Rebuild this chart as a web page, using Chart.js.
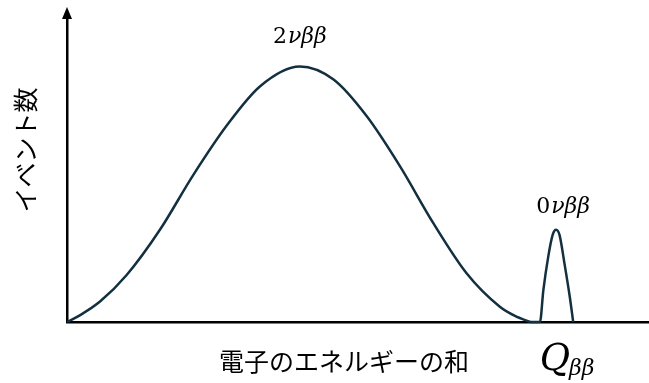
<!DOCTYPE html>
<html lang="ja">
<head>
<meta charset="utf-8">
<script src="https://cdn.jsdelivr.net/npm/chart.js@4.4.1/dist/chart.umd.min.js"></script>
<style>
  html, body { margin: 0; padding: 0; background: #fff; }
  #wrap { width: 649px; height: 383px; position: relative; }
</style>
</head>
<body>
<div id="wrap"><canvas id="spectrum"></canvas></div>
<script>
// 二重ベータ崩壊のエネルギースペクトル（模式図）
// 横軸：電子のエネルギーの和（Q値 = 100 とした任意単位）
const energy2nu = [0, 2.7, 6.75, 12.2, 19.0, 25.8, 32.7, 39.5, 47.6, 54.5, 61.3, 68.1, 74.9, 81.7, 88.5, 91.6, 94.7];
const counts2nu = [0, 2.7, 8.0, 18.4, 36.1, 57.5, 77.0, 92.3, 100, 94.9, 80.5, 60.9, 38.7, 19.1, 6.0, 2.4, 0];

const energy0nu = [94.7, 96.7, 97.4, 98.4, 99.3, 100, 100.7, 101.7, 102.8, 103.5];
const counts0nu = [0, 0, 12.5, 25.6, 34.1, 36.1, 34.1, 23.1, 9.9, 0];

const qValue = 100;
const peak2nu = 47.6;

const seriesLabels = ['2νββ', '0νββ'];
const xTitle = '電子のエネルギーの和';
const yTitle = 'イベント数';

const lineColor = '#12303f';
const jpFont = '"Noto Sans CJK JP", "Noto Sans", sans-serif';
const mathFont = '"DejaVu Serif", "Liberation Serif", serif';

function toPoints(xs, ys) {
  return xs.map((v, i) => ({ x: v, y: ys[i] }));
}

// 直立部分と斜体部分を続けて描く
function drawMixed(ctx, parts, cx, baseline) {
  let total = 0;
  parts.forEach((p) => {
    ctx.font = p.font;
    p.w = ctx.measureText(p.text).width;
    total += p.w + (p.gap || 0);
  });
  let xPos = cx - total / 2;
  parts.forEach((p) => {
    ctx.font = p.font;
    ctx.fillText(p.text, xPos, baseline + (p.dy || 0));
    xPos += p.w + (p.gap || 0);
  });
}

const annotate = {
  id: 'annotate',
  afterDraw(chart) {
    const { ctx, chartArea, scales } = chart;
    const xs = scales.x;
    const ys = scales.y;
    ctx.save();
    ctx.fillStyle = '#000';

    // 縦軸の矢印
    const ax = chartArea.left;
    ctx.beginPath();
    ctx.moveTo(ax, chartArea.top - 11);
    ctx.lineTo(ax - 5, chartArea.top + 1);
    ctx.lineTo(ax + 5, chartArea.top + 1);
    ctx.closePath();
    ctx.fill();

    ctx.textAlign = 'left';
    ctx.textBaseline = 'alphabetic';

    // ピークのラベル
    drawMixed(ctx, [
      { text: '2', font: '22px ' + mathFont, gap: 1 },
      { text: 'νββ', font: 'italic 22px ' + mathFont }
    ], xs.getPixelForValue(peak2nu), ys.getPixelForValue(100) - 24);

    drawMixed(ctx, [
      { text: '0', font: '22px ' + mathFont, gap: 1 },
      { text: 'νββ', font: 'italic 22px ' + mathFont }
    ], xs.getPixelForValue(qValue) + 7, ys.getPixelForValue(36.1) - 17);

    // Q値
    drawMixed(ctx, [
      { text: 'Q', font: 'italic 37px ' + mathFont, gap: -1 },
      { text: 'ββ', font: 'italic 22px ' + mathFont, dy: 5 }
    ], xs.getPixelForValue(qValue) + 11, chartArea.bottom + 48);

    // 軸タイトル
    ctx.font = '25px ' + jpFont;
    ctx.textAlign = 'center';
    ctx.textBaseline = 'middle';
    ctx.fillText(xTitle, 344, chartArea.bottom + 39);

    ctx.translate(25, 150);
    ctx.rotate(-Math.PI / 2);
    ctx.fillText(yTitle, 0, 0);
    ctx.restore();
  }
};

const axisStyle = {
  grid: { display: false, drawTicks: false, tickLength: 0 },
  ticks: { display: false },
  border: { display: true, color: '#000', width: 2.5 }
};

new Chart(document.getElementById('spectrum'), {
  type: 'line',
  data: {
    datasets: [
      {
        label: seriesLabels[0],
        data: toPoints(energy2nu, counts2nu),
        borderColor: lineColor,
        borderWidth: 2.5,
        pointRadius: 0,
        cubicInterpolationMode: 'monotone',
        clip: false
      },
      {
        label: seriesLabels[1],
        data: toPoints(energy0nu, counts0nu),
        borderColor: lineColor,
        borderWidth: 2.5,
        pointRadius: 0,
        cubicInterpolationMode: 'monotone',
        clip: false
      }
    ]
  },
  options: {
    responsive: true,
    maintainAspectRatio: false,
    animation: false,
    layout: { padding: { left: 67, top: 18, right: 0, bottom: 61 } },
    plugins: {
      legend: { display: false },
      tooltip: { enabled: false }
    },
    scales: {
      x: { type: 'linear', min: 0, max: 119, ...axisStyle },
      y: { min: 0, max: 119, ...axisStyle }
    }
  },
  plugins: [annotate]
});
</script>
</body>
</html>
